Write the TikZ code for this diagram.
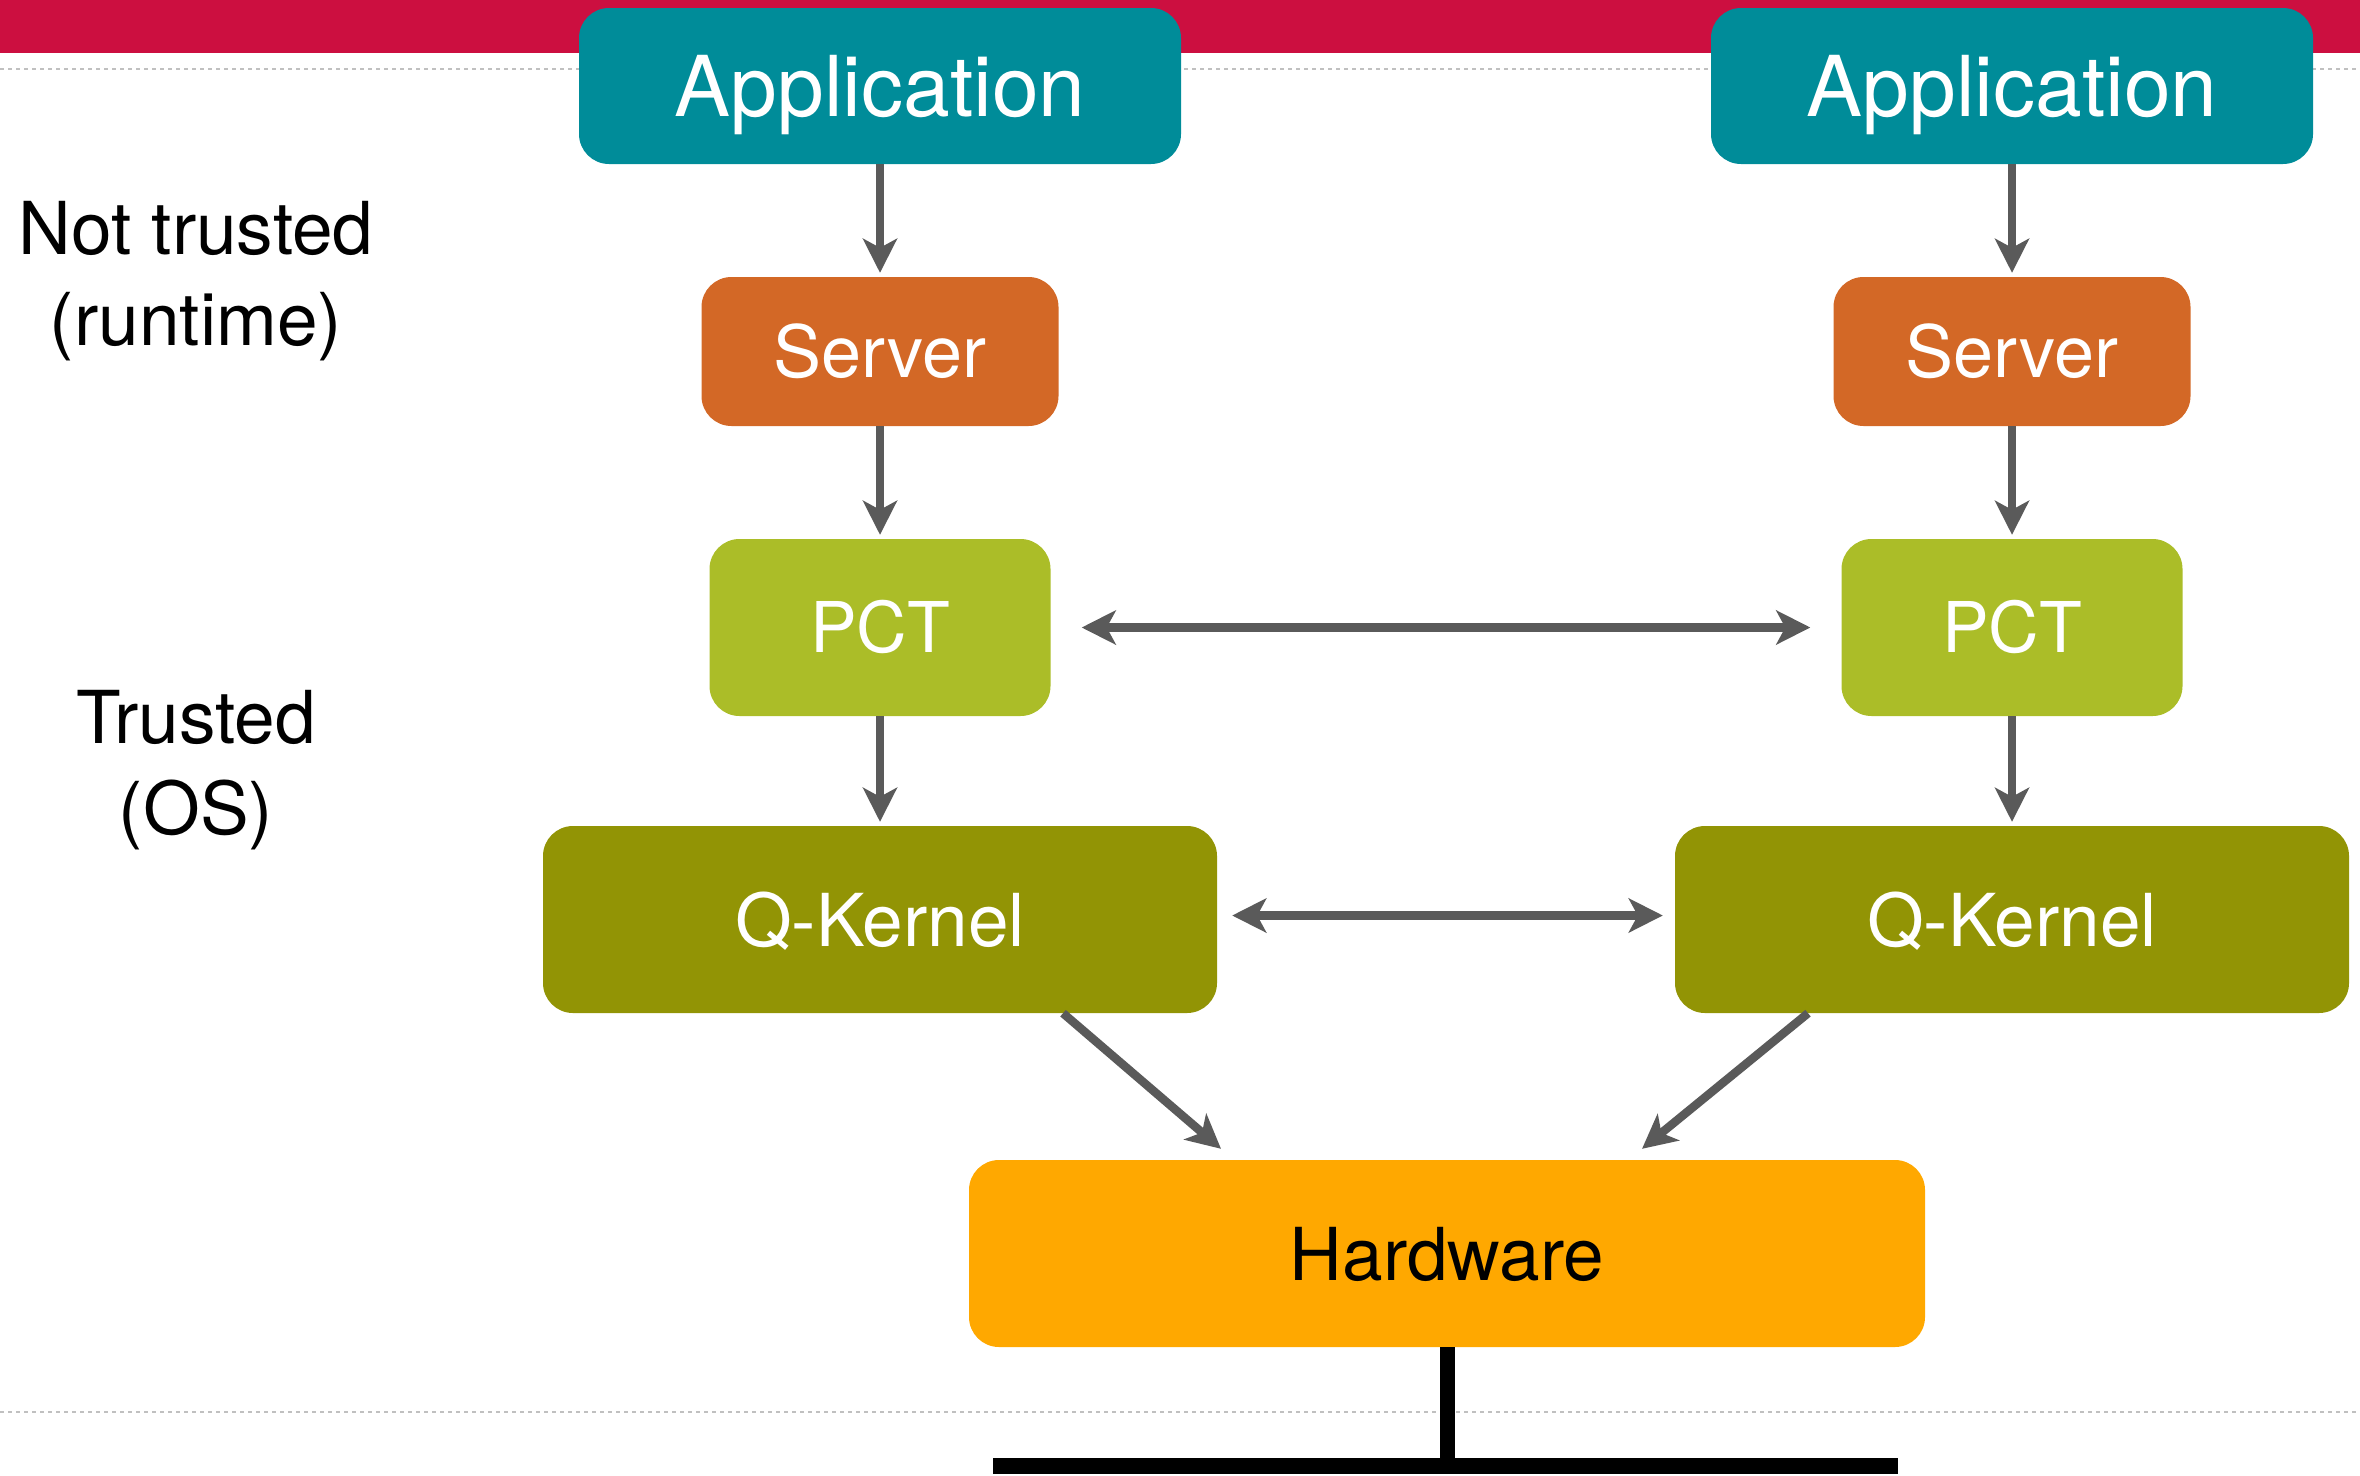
\documentclass[tikz,border=0pt]{standalone}
\usepackage{fontspec}
\setmainfont{TeX Gyre Heros}
\usetikzlibrary{arrows.meta}

\definecolor{bandred}{HTML}{CC0F40}
\definecolor{appteal}{HTML}{008C99}
\definecolor{serverorange}{HTML}{D36826}
\definecolor{pctgreen}{HTML}{ABBD28}
\definecolor{kernelolive}{HTML}{929405}
\definecolor{hwamber}{HTML}{FFA800}
\definecolor{arrowgrey}{HTML}{5A5A5A}
\definecolor{ruleg}{HTML}{C0C0C0}

\begin{document}
\begin{tikzpicture}[x=1pt,y=-1pt,
  box/.style={rounded corners=30pt, inner sep=0pt, text=white, text depth=0pt},
  appbox/.style={box, fill=appteal, minimum width=602pt, minimum height=156pt,
                 text height=60pt, font=\fontsize{84}{100}\selectfont},
  serverbox/.style={box, fill=serverorange, minimum width=357pt, minimum height=149pt,
                    text height=52pt, font=\fontsize{72}{86}\selectfont},
  pctbox/.style={box, fill=pctgreen, minimum width=341pt, minimum height=177pt,
                 text height=50pt, font=\fontsize{70}{84}\selectfont},
  kernelbox/.style={box, fill=kernelolive, minimum width=674pt, minimum height=187pt,
                    text height=53pt, font=\fontsize{73}{88}\selectfont},
  hwbox/.style={box, fill=hwamber, text=black, minimum width=956pt, minimum height=187pt,
                text height=53pt, font=\fontsize{73}{88}\selectfont},
  sidelabel/.style={align=center, inner sep=0pt, font=\fontsize{73}{91}\selectfont},
  tip/.tip={Stealth[length=34pt,width=34pt,inset=9pt]},
  flow/.style={draw=arrowgrey, line width=8.5pt, -tip},
  both/.style={draw=arrowgrey, line width=8.5pt, tip-tip},
  guide/.style={draw=ruleg, line width=2.5pt, dash pattern=on 4pt off 4pt}
]
\useasboundingbox (0,0) rectangle (2360,1475);

% header band and guide lines
\fill[bandred] (0,0) rectangle (2360,53);
\coordinate (topL) at (0,69);
\coordinate (topR) at (2360,69);
\coordinate (botL) at (0,1412);
\coordinate (botR) at (2360,1412);
\draw[guide] (topL) -- (topR);
\draw[guide] (botL) -- (botR);

% side labels
\node[sidelabel] (untrusted) at (196,281) {Not trusted\\(runtime)};
\node[sidelabel] (trusted) at (196,770) {Trusted\\(OS)};

% left stack
\node[appbox]    (app1) at (880,86)    {Application};
\node[serverbox] (srv1) at (880,351.5) {Server};
\node[pctbox]    (pct1) at (880,627.5) {PCT};
\node[kernelbox] (qk1)  at (880,919.5) {Q-Kernel};

% right stack
\node[appbox]    (app2) at (2012,86)    {Application};
\node[serverbox] (srv2) at (2012,351.5) {Server};
\node[pctbox]    (pct2) at (2012,627.5) {PCT};
\node[kernelbox] (qk2)  at (2012,919.5) {Q-Kernel};

% hardware
\node[hwbox] (hw) at (1447,1253.5) {Hardware};

% vertical flows
\draw[flow, shorten >=4pt] (app1) -- (srv1);
\draw[flow, shorten >=4pt] (srv1) -- (pct1);
\draw[flow, shorten >=4pt] (pct1) -- (qk1);
\draw[flow, shorten >=4pt] (app2) -- (srv2);
\draw[flow, shorten >=4pt] (srv2) -- (pct2);
\draw[flow, shorten >=4pt] (pct2) -- (qk2);

% peer links
\draw[both, shorten <=31pt, shorten >=31pt] (pct1.east) -- (pct2.west);
\draw[both, shorten <=15pt, shorten >=12pt] ([yshift=4pt]qk1.east) -- ([yshift=4pt]qk2.west);

% kernels to hardware
\draw[flow] ([xshift=183pt]qk1.south) -- ([xshift=-226pt,yshift=11pt]hw.north);
\draw[flow] ([xshift=-204pt]qk2.south) -- ([xshift=195pt,yshift=11pt]hw.north);

% hardware stand
\coordinate (baseL) at (993,1466);
\coordinate (baseR) at (1898,1466);
\coordinate (baseM) at (1447,1466);
\draw[line width=15pt] (hw.south) -- (baseM);
\draw[line width=16pt] (baseL) -- (baseR);
\end{tikzpicture}
\end{document}
